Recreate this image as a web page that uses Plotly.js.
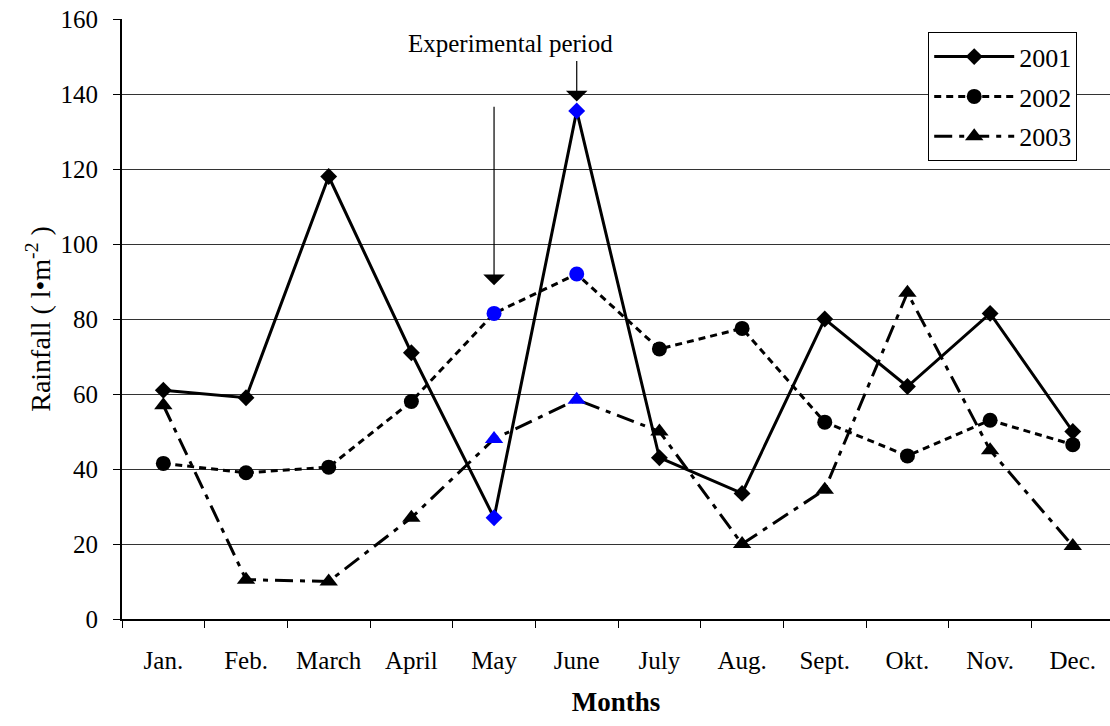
<!DOCTYPE html>
<html>
<head>
<meta charset="utf-8">
<script src="https://cdn.plot.ly/plotly-3.0.1.min.js"></script>
<style>html,body{margin:0;padding:0;background:#fff;overflow:hidden}#chart{width:1110px;height:726px}</style>
</head>
<body>
<div id="chart"></div>
<script>
const months = ["Jan.","Feb.","March","April","May","June","July","Aug.","Sept.","Okt.","Nov.","Dec."];
const rain2001 = [61, 59, 118, 71, 27, 135.5, 43, 33.5, 80, 62, 81.5, 50];
const rain2002 = [41.5, 39, 40.5, 58, 81.5, 92, 72, 77.5, 52.5, 43.5, 53, 46.5];
const rain2003 = [57, 10.5, 10, 27, 48, 58.5, 50, 20, 34.5, 87, 45, 19.5];
const experimentalMonths = ["May","June"];
const seriesNames = ["2001","2002","2003"];

const FONT = "Liberation Serif, Times New Roman, serif";
const colorsFor = () => months.map(m => experimentalMonths.includes(m) ? "#0000FF" : "#000000");

const traces = [
  {x: months, y: rain2001, name: seriesNames[0], mode: "lines+markers",
   line: {color: "#000", width: 3, dash: "solid"},
   marker: {symbol: "diamond", size: 13, color: colorsFor()}},
  {x: months, y: rain2002, name: seriesNames[1], mode: "lines+markers",
   line: {color: "#000", width: 3, dash: "7px,5px"},
   marker: {symbol: "circle", size: 15, color: colorsFor()}},
  {x: months, y: rain2003, name: seriesNames[2], mode: "lines+markers",
   line: {color: "#000", width: 3, dash: "18px,7px,5px,7px"},
   marker: {symbol: "triangle-up", size: 16, color: colorsFor()}}
].map((t, i) => Object.assign(t, {type: "scatter", legendgroup: "g" + i}));

const layout = {
  width: 1110, height: 726,
  margin: {l: 122, r: 0, t: 19, b: 107},
  paper_bgcolor: "#fff", plot_bgcolor: "#fff",
  font: {family: FONT, size: 25, color: "#000"},
  showlegend: true,
  legend: {x: 0.816, y: 0.978, xanchor: "left", yanchor: "top",
    bgcolor: "#fff", bordercolor: "#000", borderwidth: 1,
    font: {family: FONT, size: 26, color: "#000"},
    itemwidth: 80,
    tracegroupgap: 3, traceorder: "grouped"},
  xaxis: {
    type: "category", range: [-0.5, 11.45],
    tickson: "boundaries", ticks: "outside", ticklen: 7, tickcolor: "#000",
    showline: true, linecolor: "#000", linewidth: 2, showgrid: false, zeroline: false,
    ticklabelstandoff: 18,
    tickfont: {family: FONT, size: 25, color: "#000"},
    title: {text: "<b>Months</b>", font: {family: FONT, size: 27, color: "#000"}, standoff: 19}
  },
  yaxis: {
    range: [0, 160], dtick: 20, tick0: 0,
    ticks: "outside", ticklen: 7, tickcolor: "#000",
    showline: true, linecolor: "#000", linewidth: 2,
    showgrid: true, gridcolor: "#333", gridwidth: 1, zeroline: false,
    ticklabelstandoff: 10,
    tickfont: {family: FONT, size: 25, color: "#000"},
    title: {text: "Rainfall ( l•m<sup>-2</sup> )", font: {family: FONT, size: 28, color: "#000"}, standoff: 2}
  },
  annotations: [
    {text: "Experimental period", xref: "paper", yref: "paper",
     x: 0.393, y: 0.96, xanchor: "center", yanchor: "middle", showarrow: false,
     font: {family: FONT, size: 25, color: "#000"}},
    {text: "", xref: "x", yref: "y", x: "May", y: 89, axref: "pixel", ayref: "pixel",
     ax: 0, ay: -180, showarrow: true, arrowhead: 1, arrowsize: 3, arrowwidth: 1.2, arrowcolor: "#000"},
    {text: "", xref: "x", yref: "y", x: "June", y: 138, axref: "pixel", ayref: "pixel",
     ax: 0, ay: -42, showarrow: true, arrowhead: 1, arrowsize: 3, arrowwidth: 1.2, arrowcolor: "#000"}
  ]
};

Plotly.newPlot("chart", traces, layout, {displayModeBar: false, staticPlot: true});
</script>
</body>
</html>
